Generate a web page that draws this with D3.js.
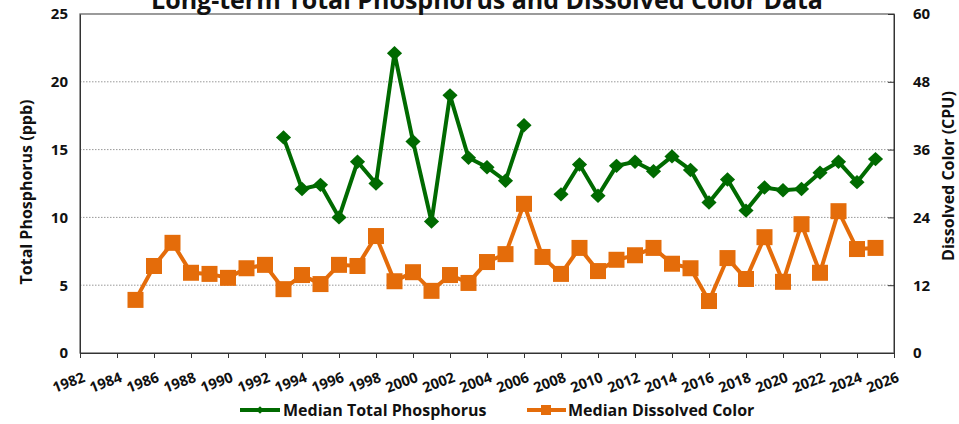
<!DOCTYPE html>
<html><head><meta charset="utf-8">
<script src="https://cdn.jsdelivr.net/npm/d3@7"></script>
<style>
body{margin:0;background:#fff;}
text{font-family:"Open Sans",sans-serif;font-weight:bold;fill:#111;}
</style></head>
<body><svg id="c" width="959" height="424"></svg>
<script>
const tpYears = [1993,1994,1995,1996,1997,1998,1999,2000,2001,2002,2003,2004,2005,2006,2007,2008,2009,2010,2011,2012,2013,2014,2015,2016,2017,2018,2019,2020,2021,2022,2023,2024,2025];
const tpValues = [15.9,12.1,12.4,10.0,14.1,12.5,22.1,15.6,9.7,19.0,14.4,13.7,12.7,16.8,null,11.7,13.9,11.6,13.8,14.1,13.4,14.5,13.5,11.1,12.8,10.5,12.2,12.0,12.1,13.3,14.1,12.6,14.3];
const dcYears = [1985,1986,1987,1988,1989,1990,1991,1992,1993,1994,1995,1996,1997,1998,1999,2000,2001,2002,2003,2004,2005,2006,2007,2008,2009,2010,2011,2012,2013,2014,2015,2016,2017,2018,2019,2020,2021,2022,2023,2024,2025];
const dcValues = [9.4,15.4,19.5,14.2,14.0,13.3,15.0,15.6,11.3,13.8,12.2,15.6,15.4,20.7,12.7,14.3,11.0,13.8,12.4,16.1,17.5,26.4,17.0,14.0,18.6,14.5,16.5,17.3,18.6,15.8,15.0,9.2,16.8,13.1,20.5,12.6,22.8,14.2,25.1,18.4,18.6];
const xTicks = [1982,1984,1986,1988,1990,1992,1994,1996,1998,2000,2002,2004,2006,2008,2010,2012,2014,2016,2018,2020,2022,2024,2026];
const yLeftTicks = [0,5,10,15,20,25];
const yRightTicks = [0,12,24,36,48,60];
const title = "Long-term Total Phosphorus and Dissolved Color Data";
const green = "#006a00", orange = "#E46C0A";

const svg = d3.select("#c");
const L = 80, R = 894, T = 14, B = 353;
const x = d3.scaleLinear().domain([1982, 2026]).range([L, R]);
const yL = d3.scaleLinear().domain([0, 25]).range([B, T]);
const yR = d3.scaleLinear().domain([0, 60]).range([B, T]);

// grid
svg.append("g").selectAll("line").data([5,10,15,20]).join("line")
  .attr("x1", L).attr("x2", R).attr("y1", d => yL(d)).attr("y2", d => yL(d))
  .attr("stroke", "#999").attr("stroke-width", 1).attr("stroke-dasharray", "1.5,1.5");

// frame
svg.append("rect").attr("x", L).attr("y", T).attr("width", R - L).attr("height", B - T)
  .attr("fill", "none").attr("stroke", "#666").attr("stroke-width", 1.3);

// x axis
const xa = svg.append("g").attr("transform", `translate(0,${B})`)
  .call(d3.axisBottom(x).tickValues(xTicks).tickSize(5).tickFormat(""));
xa.select(".domain").attr("stroke", "#333");
xa.selectAll(".tick line").attr("stroke", "#333");
svg.append("g").selectAll("text").data(xTicks).join("text")
  .attr("transform", d => `translate(${x(d) + 2},${B + 18}) rotate(-21)`)
  .attr("text-anchor", "end").attr("dy", "0.75em")
  .style("font-size", "14.5px").text(d => d);

// left axis
const la = svg.append("g").attr("transform", `translate(${L},0)`)
  .call(d3.axisLeft(yL).tickValues(yLeftTicks).tickSize(0).tickPadding(12));
la.select(".domain").attr("stroke", "#333");
la.selectAll("text").style("font-size", "15px").style("font-family", "Open Sans").style("font-weight", "bold").attr("fill", "#111");

// right axis
const ra = svg.append("g").attr("transform", `translate(${R},0)`)
  .call(d3.axisRight(yR).tickValues(yRightTicks).tickSize(-6).tickPadding(19));
ra.select(".domain").attr("stroke", "#333");
ra.selectAll(".tick line").attr("stroke", "#333");
ra.selectAll("text").style("font-size", "15px").style("font-family", "Open Sans").style("font-weight", "bold").attr("fill", "#111");

// axis titles
svg.append("text").attr("transform", `translate(32,192) rotate(-90)`)
  .attr("text-anchor", "middle").style("font-size", "16px").text("Total Phosphorus (ppb)");
svg.append("text").attr("transform", `translate(954,176) rotate(-90)`)
  .attr("text-anchor", "middle").style("font-size", "16px").text("Dissolved Color (CPU)");

// title
svg.append("text").attr("x", (L + R) / 2).attr("y", 9).attr("text-anchor", "middle")
  .style("font-size", "25px").text(title);

// series
const tp = tpYears.map((yr, i) => ({yr, v: tpValues[i]}));
const dc = dcYears.map((yr, i) => ({yr, v: dcValues[i]}));

svg.append("path").datum(dc)
  .attr("d", d3.line().x(d => x(d.yr)).y(d => yR(d.v)))
  .attr("fill", "none").attr("stroke", orange).attr("stroke-width", 4);
svg.append("g").selectAll("rect").data(dc).join("rect")
  .attr("x", d => x(d.yr) - 8).attr("y", d => yR(d.v) - 8).attr("width", 16).attr("height", 16)
  .attr("fill", orange);

svg.append("path").datum(tp)
  .attr("d", d3.line().defined(d => d.v != null).x(d => x(d.yr)).y(d => yL(d.v)))
  .attr("fill", "none").attr("stroke", green).attr("stroke-width", 4);
const diamond = d3.symbol().type(d3.symbolSquare).size(115);
svg.append("g").selectAll("path").data(tp.filter(d => d.v != null)).join("path")
  .attr("transform", d => `translate(${x(d.yr)},${yL(d.v)}) scale(1,0.95) rotate(45)`)
  .attr("d", diamond).attr("fill", green);

// legend
const lg = svg.append("g");
lg.append("line").attr("x1", 240).attr("x2", 280).attr("y1", 410).attr("y2", 410)
  .attr("stroke", green).attr("stroke-width", 4);
lg.append("path").attr("transform", "translate(260,410) rotate(45)")
  .attr("d", d3.symbol().type(d3.symbolSquare).size(30)).attr("fill", green);
lg.append("text").attr("x", 283).attr("y", 416).style("font-size", "16px").text("Median Total Phosphorus");
lg.append("line").attr("x1", 527).attr("x2", 566).attr("y1", 410).attr("y2", 410)
  .attr("stroke", orange).attr("stroke-width", 4);
lg.append("rect").attr("x", 541).attr("y", 405).attr("width", 10).attr("height", 10).attr("fill", orange);
lg.append("text").attr("x", 568).attr("y", 416).style("font-size", "16px").text("Median Dissolved Color");
</script></body></html>
